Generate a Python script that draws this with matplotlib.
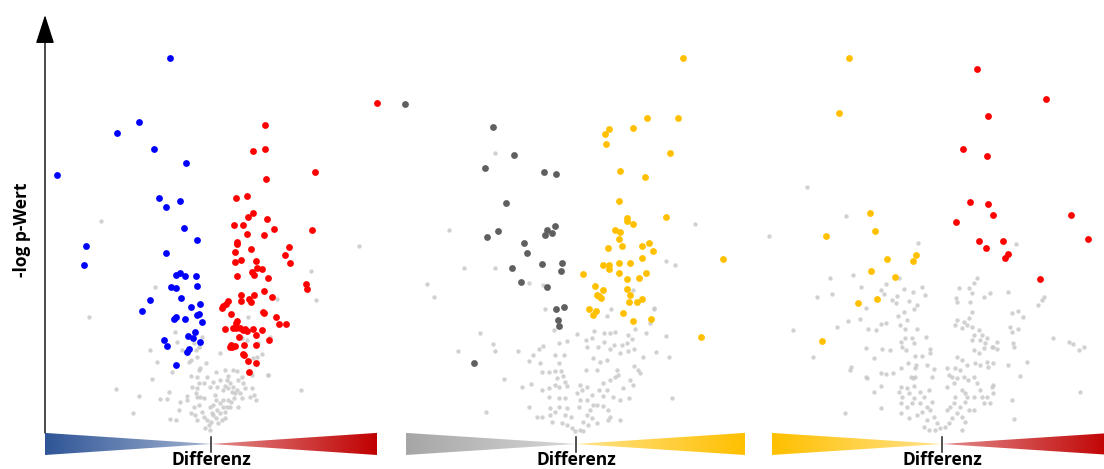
import numpy as np
import matplotlib
matplotlib.use('Agg')
import matplotlib.pyplot as plt
from matplotlib.patches import Polygon
from matplotlib.colors import LinearSegmentedColormap, to_rgb

plt.rcParams['font.family'] = ['Open Sans', 'DejaVu Sans']

# ---- panel 1: blue (down) / red (up) ----
p1_down = [(-0.98, 8.98), (-1.73, 7.43), (-2.27, 7.16), (-1.38, 6.79), (-0.61, 6.46), (-3.70, 6.16),
           (-1.25, 5.61), (-0.74, 5.53), (-1.09, 5.40), (-0.65, 4.89), (-0.34, 4.61), (-3.01, 4.47),
           (-1.08, 4.29), (-3.07, 4.00), (-0.85, 3.77), (-0.74, 3.82), (-0.62, 3.74), (-0.35, 3.74),
           (-0.96, 3.48), (-0.84, 3.46), (-0.34, 3.51), (-0.72, 3.22), (-1.46, 3.17), (-1.66, 2.91),
           (-0.48, 3.00), (-0.26, 3.07), (-0.84, 2.76), (-0.88, 2.70), (-0.62, 2.72), (-0.34, 2.80),
           (-0.30, 2.83), (-0.21, 2.64), (-0.38, 2.40), (-0.56, 2.30), (-0.44, 2.25), (-1.14, 2.20),
           (-0.26, 2.16), (-1.06, 2.06), (-0.53, 1.98), (-0.59, 1.93), (-0.84, 1.60)]
p1_up = [(4.00, 7.88), (1.29, 7.37), (1.00, 6.73), (1.29, 6.79), (2.50, 6.24), (1.33, 6.06), (0.60, 5.61),
         (0.86, 5.65), (1.00, 5.26), (0.88, 5.16), (1.35, 5.12), (0.56, 4.96), (0.76, 4.96), (1.53, 4.88),
         (2.43, 4.85), (0.86, 4.74), (1.28, 4.72), (0.62, 4.56), (0.63, 4.52), (1.89, 4.44), (0.96, 4.39),
         (0.57, 4.32), (1.78, 4.24), (0.73, 4.13), (1.09, 4.10), (0.57, 4.07), (1.90, 4.05), (1.11, 3.93),
         (1.23, 3.90), (0.99, 3.84), (1.04, 3.77), (0.62, 3.73), (1.37, 3.70), (2.29, 3.54), (2.31, 3.44),
         (1.28, 3.38), (0.73, 3.29), (1.04, 3.28), (1.48, 3.25), (0.92, 3.19), (0.96, 3.13), (0.72, 3.14),
         (0.42, 3.14), (0.36, 3.08), (0.30, 3.02), (0.27, 2.98), (0.47, 2.82), (1.25, 2.88), (1.28, 2.86),
         (1.57, 2.76), (0.63, 2.67), (0.60, 2.62), (1.65, 2.59), (1.81, 2.58), (0.34, 2.46), (0.54, 2.49),
         (0.60, 2.50), (0.70, 2.49), (0.76, 2.45), (0.82, 2.47), (0.86, 2.43), (1.02, 2.47), (1.23, 2.45),
         (0.67, 2.29), (1.08, 2.32), (1.39, 2.21), (0.47, 2.09), (0.51, 2.05), (0.59, 2.06), (0.45, 2.03),
         (0.80, 2.08), (1.08, 2.09), (0.76, 1.87), (0.80, 1.85), (0.88, 1.71), (1.08, 1.65), (0.92, 1.44)]
p1_ns = [(-2.65, 5.06), (3.57, 4.47), (2.42, 3.87), (2.54, 3.17), (-2.93, 2.76), (1.60, 3.19), (0.90, 2.76),
         (-1.34, 3.48), (-0.30, 2.04), (1.37, 1.37),
         (-1.48, 1.97), (-1.29, 1.68), (-0.94, 1.45), (-1.42, 1.27), (-2.29, 1.03), (-1.74, 0.86), (-1.89, 0.46),
         (-1.24, 0.80), (-1.05, 0.79), (-1.02, 0.96), (-0.74, 0.72), (-0.78, 0.53), (-1.00, 0.32), (-0.84, 0.29),
         (-0.58, 0.87), (-0.57, 0.77), (-0.46, 1.09), (-0.30, 1.49), (-0.26, 1.53), (-0.49, 1.34), (-0.33, 1.31),
         (-0.52, 1.68), (-0.48, 1.73), (-0.33, 1.81), (-0.36, 1.97), (-0.13, 1.65), (-0.10, 1.33), (-0.17, 1.17),
         (-0.30, 1.17), (-0.33, 1.05), (-0.36, 0.94), (-0.33, 0.83), (-0.26, 0.85), (-0.16, 0.81), (-0.28, 0.65),
         (-0.42, 0.61), (-0.49, 0.45), (-0.38, 0.41), (-0.34, 0.29), (-0.22, 0.49), (-0.18, 0.37), (-0.10, 0.29),
         (-0.06, 0.17), (-0.14, 0.09), (-0.02, 0.05), (-0.01, 0.25), (0.02, 0.45), (-0.02, 0.61), (0.06, 0.65),
         (0.12, 0.77), (0.10, 0.89), (0.15, 1.07), (0.22, 1.25), (0.22, 1.89), (0.28, 1.01), (0.34, 1.10),
         (0.38, 1.25), (0.42, 1.05), (0.46, 1.17), (0.50, 0.97), (0.54, 1.07), (0.58, 0.93), (0.62, 1.01),
         (0.55, 0.81), (0.42, 0.77), (0.30, 0.77), (0.22, 0.69), (0.30, 0.61), (0.14, 0.53), (0.22, 0.45),
         (0.34, 0.49), (0.38, 0.61), (0.46, 0.61), (0.47, 0.73), (0.12, 0.33), (0.18, 0.21), (0.26, 0.29),
         (0.34, 0.33), (0.06, 0.41), (-0.02, 1.09), (0.06, 1.21), (0.12, 1.45), (0.34, 1.49), (0.42, 1.34),
         (0.54, 1.49), (0.63, 1.47), (0.66, 1.25), (0.74, 1.33), (0.78, 1.17), (0.82, 1.05), (0.98, 1.37),
         (1.02, 1.77), (1.10, 1.81), (1.24, 1.87), (1.38, 1.37), (0.98, 1.05), (1.03, 0.89), (1.08, 0.77),
         (0.94, 0.85), (0.74, 0.81), (0.70, 0.93), (0.66, 0.61), (1.14, 2.13), (1.42, 2.29), (2.18, 1.02),
         (0.74, 2.25), (0.86, 2.21), (-0.22, 2.29), (-0.30, 2.05), (-0.50, 2.01), (-0.82, 2.17), (-0.70, 1.97),
         (-0.42, 2.13), (-0.86, 2.41)]

# ---- panel 2: dark grey (down) / yellow (up) ----
p2_down = [(-4.13, 7.86), (-1.99, 7.32), (-1.50, 6.64), (-2.20, 6.34), (-0.78, 6.24), (-0.48, 6.19),
           (-1.69, 5.49), (-1.89, 4.82), (-2.15, 4.67), (-0.51, 4.94), (-0.70, 4.85), (-0.74, 4.73),
           (-0.59, 4.77), (-1.26, 4.54), (-1.19, 4.30), (-1.55, 3.93), (-0.82, 4.04), (-0.33, 4.05),
           (-0.35, 3.86), (-1.32, 3.61), (-0.70, 3.49), (-0.48, 2.96), (-0.30, 3.01), (-0.43, 2.69),
           (-0.42, 2.54), (-2.46, 1.65)]
p2_up = [(2.57, 8.98), (1.70, 7.53), (2.46, 7.54), (0.80, 7.26), (1.38, 7.29), (0.69, 7.14), (0.73, 6.90),
         (2.26, 6.70), (1.07, 6.25), (1.67, 6.11), (1.04, 5.53), (2.17, 5.16), (1.22, 5.13), (1.24, 5.07),
         (1.37, 4.98), (0.95, 4.85), (1.06, 4.80), (1.04, 4.62), (1.10, 4.46), (0.78, 4.42), (1.59, 4.47),
         (1.75, 4.53), (1.85, 4.33), (1.58, 4.17), (0.64, 4.00), (0.79, 4.01), (0.80, 3.90), (1.04, 4.05),
         (1.30, 4.06), (0.16, 3.78), (1.03, 3.81), (1.69, 3.81), (1.52, 3.70), (1.23, 3.67), (0.46, 3.50),
         (0.66, 3.41), (1.22, 3.42), (1.30, 3.29), (0.51, 3.28), (0.60, 3.22), (0.55, 3.26), (1.58, 3.20),
         (1.46, 3.11), (1.28, 3.12), (0.32, 2.94), (0.48, 2.91), (0.40, 2.80), (1.14, 2.86), (1.38, 2.66),
         (1.80, 2.70), (3.55, 4.14), (3.00, 2.27)]
p2_ns = [(-3.06, 4.85), (-2.69, 3.93), (-1.94, 3.93), (-3.60, 3.55), (-3.42, 3.25), (-1.94, 6.68),
         (-1.13, 3.58), (-0.80, 3.52), (2.87, 5.00), (2.18, 4.10), (2.38, 4.01), (1.37, 3.41), (0.85, 2.94),
         (1.88, 2.97), (1.78, 2.62), (0.74, 2.78), (-0.74, 2.95),
         (-2.32, 2.37), (-2.84, 1.94), (-2.00, 2.10), (-1.94, 1.94), (-1.40, 1.94), (-1.74, 1.28), (-2.18, 0.48),
         (-1.30, 1.09), (-1.14, 1.71), (-1.04, 1.84), (-0.90, 1.98), (-0.80, 2.07), (-1.14, 0.61), (-1.09, 1.15),
         (-0.82, 1.45), (-0.66, 1.45), (-0.50, 1.85), (-0.30, 1.85), (-0.42, 2.13), (-0.21, 2.18), (-0.54, 2.45),
         (0.03, 2.34), (0.23, 2.21), (0.38, 2.25), (0.43, 2.43), (0.68, 2.37), (0.82, 2.37),
         (0.95, 2.41), (0.26, 2.03), (0.54, 2.03), (0.68, 2.17), (0.92, 2.09), (1.10, 2.09), (1.22, 2.14),
         (1.36, 2.22), (0.83, 1.98), (1.06, 1.89), (1.26, 1.94), (1.40, 1.98), (1.62, 1.81), (1.92, 1.93),
         (2.24, 1.81), (2.18, 2.30), (1.87, 2.95), (1.68, 2.37), (1.42, 2.46), (1.26, 2.33), (-0.40, 1.66),
         (-0.37, 1.47), (-0.50, 1.47), (-0.86, 1.66), (-0.46, 1.29), (-0.32, 1.34), (-0.26, 1.21), (-0.50, 1.13),
         (-0.42, 1.09), (-0.22, 1.11), (-0.64, 0.85), (-0.42, 0.81), (-0.26, 0.82), (-0.82, 1.02), (-0.66, 1.05),
         (-0.62, 0.57), (-0.42, 0.59), (-0.22, 0.57), (-0.94, 0.37), (-0.82, 0.37), (-0.62, 0.41), (-0.50, 0.49),
         (-0.26, 0.41), (-0.13, 0.37), (-0.58, 0.25), (-0.34, 0.21), (-0.22, 0.17), (-0.10, 0.09), (-0.02, 0.03),
         (0.10, 0.05), (0.18, 0.03), (0.08, 0.61), (0.10, 0.77), (0.02, 0.93), (0.14, 1.01), (0.10, 1.13),
         (0.26, 1.09), (0.24, 1.49), (0.50, 1.49), (0.42, 1.77), (0.58, 1.69), (0.74, 1.73), (0.66, 1.17),
         (0.82, 1.25), (0.94, 1.31), (1.02, 1.37), (0.98, 1.49), (1.14, 1.05), (1.30, 1.25), (1.38, 1.13),
         (1.54, 1.41), (1.40, 1.58), (1.50, 1.50), (0.56, 1.01), (0.74, 1.01), (0.38, 0.89), (0.64, 0.86),
         (0.90, 0.85), (1.06, 0.77), (0.26, 0.77), (0.42, 0.65), (0.50, 0.65), (0.66, 0.62), (0.78, 0.53),
         (0.34, 0.53), (0.26, 0.41), (0.38, 0.33), (0.18, 0.25), (0.30, 0.17), (0.50, 0.21), (0.82, 0.37),
         (1.06, 0.29), (1.28, 0.81), (2.32, 0.81), (0.78, 0.29)]

# ---- panel 3: yellow (down) / red (up) ----
p3_down = [(-2.25, 8.98), (-2.47, 7.66), (-1.74, 5.26), (-1.62, 4.82), (-2.79, 4.70), (-1.32, 4.16),
           (-0.63, 4.24), (-0.70, 4.10), (-1.72, 3.86), (-1.13, 3.71), (-2.02, 3.10), (-1.56, 3.18),
           (-2.89, 2.19)]
p3_up = [(0.85, 8.71), (2.51, 7.98), (1.12, 7.58), (0.50, 6.78), (1.09, 6.63), (0.68, 5.51), (1.10, 5.48),
         (1.23, 5.21), (0.34, 5.03), (3.11, 5.21), (3.52, 4.63), (0.90, 4.57), (1.06, 4.42), (1.48, 4.58),
         (1.58, 4.26), (1.53, 4.18), (2.35, 3.66)]
p3_ns = [(-3.26, 5.88), (-4.16, 4.70), (-2.32, 5.17), (-0.57, 4.54), (1.78, 4.51),
         (-3.58, 2.45), (-3.10, 1.79), (-3.02, 3.25), (-2.71, 3.69), (-2.66, 3.32), (-2.14, 3.77), (-1.96, 3.47),
         (-2.52, 2.53), (-2.26, 2.66), (-1.98, 2.71), (-1.83, 2.97), (-1.82, 2.02), (-1.78, 2.48), (-1.60, 2.45),
         (-1.46, 2.59), (-1.36, 2.61), (-1.48, 3.41), (-1.40, 3.30), (-1.36, 3.54), (-1.20, 3.17), (-1.12, 3.09),
         (-1.04, 3.70), (-1.08, 3.26), (-0.92, 3.42), (-0.80, 3.14), (-0.70, 3.37), (-0.60, 3.05), (-0.68, 2.94),
         (-0.48, 3.49), (-0.40, 3.29), (-1.06, 2.78), (-0.92, 2.89), (-0.84, 2.69), (-1.02, 2.57), (-0.90, 2.46),
         (-0.90, 2.25), (-0.60, 2.46), (-1.00, 2.17), (-0.96, 2.05), (-0.86, 1.97), (-0.72, 2.25), (-0.68, 2.13),
         (-0.38, 2.27), (-0.30, 1.99), (-0.28, 1.90), (-0.65, 1.82), (-0.48, 1.82), (-1.26, 1.97), (-1.44, 1.98),
         (-1.80, 1.30), (-2.20, 1.57), (-2.22, 1.50), (-1.64, 1.78), (-1.48, 1.42), (-1.34, 1.39), (-1.82, 1.31),
         (-1.18, 1.41), (-1.00, 1.53), (-0.82, 1.65), (-0.64, 1.53), (-0.62, 1.61), (-0.36, 1.61), (-0.20, 1.52),
         (-0.24, 1.33), (-0.70, 1.29), (-0.64, 1.33), (-0.74, 1.33), (-1.64, 0.97), (-1.48, 1.10), (-1.00, 1.09),
         (-0.84, 1.06), (-0.68, 1.10), (-1.04, 0.97), (-0.96, 0.85), (-0.80, 0.93), (-0.68, 0.81), (-0.52, 0.97),
         (-0.44, 0.85), (-0.32, 1.01), (-1.00, 0.70), (-0.84, 0.61), (-0.72, 0.69), (-0.52, 0.69), (-0.36, 0.61),
         (-0.24, 0.73), (-1.00, 0.45), (-0.80, 0.33), (-0.60, 0.41), (-0.48, 0.49), (-0.36, 0.29), (-0.28, 0.53),
         (-0.20, 0.37), (-0.12, 0.21), (-0.04, 0.09), (-0.16, 0.05), (-0.44, 0.13), (-0.32, 0.05), (-2.34, 0.45),
         (-1.48, 0.57), (0.12, 0.53), (0.20, 0.61), (0.28, 0.69), (0.36, 0.45), (0.08, 0.13), (0.16, 0.21),
         (0.24, 0.33), (0.44, 0.61), (0.56, 0.73), (0.60, 0.85), (0.32, 0.85), (0.48, 1.01), (0.56, 0.93),
         (0.12, 1.09), (0.28, 1.17), (0.36, 1.29), (0.24, 1.33), (0.32, 1.53), (0.44, 1.49), (0.52, 1.33),
         (0.62, 1.25), (0.76, 1.33), (0.84, 1.17), (0.92, 1.01), (0.76, 0.85), (0.96, 0.85), (1.00, 0.69),
         (1.08, 0.85), (1.20, 1.09), (1.16, 0.69), (0.48, 0.37), (0.64, 0.53), (0.76, 0.53), (0.56, 0.25),
         (0.48, 0.05), (0.12, 1.53), (0.16, 1.37), (0.36, 1.81), (0.48, 1.73), (0.60, 1.61), (0.80, 1.65),
         (0.92, 1.61), (1.08, 1.69), (1.12, 1.57), (0.88, 1.89), (0.76, 1.97), (1.00, 2.01), (1.20, 2.03),
         (1.32, 1.98), (0.92, 2.21), (1.04, 2.13), (1.08, 2.25), (0.88, 2.45), (0.96, 2.33), (0.72, 2.21),
         (0.76, 2.33), (0.48, 2.49), (0.60, 2.57), (0.72, 2.53), (0.32, 2.57), (0.36, 2.69), (0.52, 2.65),
         (0.64, 2.73), (0.72, 2.89), (0.68, 3.13), (0.72, 3.33), (0.64, 3.45), (0.40, 3.45), (0.34, 3.21),
         (0.36, 3.13), (0.76, 3.57), (0.84, 3.69), (1.00, 3.25), (1.16, 3.33), (1.24, 2.05), (1.32, 2.17),
         (1.24, 1.65), (1.60, 3.37), (1.68, 2.85), (1.82, 2.90), (1.96, 2.75), (1.64, 2.53), (1.68, 2.41),
         (1.84, 2.46), (1.72, 2.14), (1.74, 2.03), (1.58, 1.61), (1.88, 1.34), (2.06, 1.69), (1.68, 0.77),
         (1.74, 0.31), (2.32, 3.05), (2.40, 3.17), (2.46, 3.25), (2.68, 2.25), (3.05, 2.16), (3.16, 2.10),
         (3.30, 1.97), (3.42, 2.03), (3.32, 0.97), (1.24, 1.13), (1.24, 0.93)]

panels = [
    dict(ns=p1_ns, down=p1_down, up=p1_up, c_down='#0000ff', c_up='#ff0000',
         w_down='#2f5597', w_up='#c00000', px=(45, 211, 377)),
    dict(ns=p2_ns, down=p2_down, up=p2_up, c_down='#5f5f5f', c_up='#ffc000',
         w_down='#a6a6a6', w_up='#ffc000', px=(406, 576, 745)),
    dict(ns=p3_ns, down=p3_down, up=p3_up, c_down='#ffc000', c_up='#ff0000',
         w_down='#ffc000', w_up='#c00000', px=(772, 942, 1112)),
]

W, H = 1104, 469
PX_X, PX_Y = 41.5, 41.7
fig = plt.figure(figsize=(W / 100, H / 100), dpi=100)


def wedge(ax, x_outer, color):
    poly = Polygon([(x_outer, -0.02), (x_outer, -0.55), (0, -0.285)], closed=True,
                   facecolor='none', edgecolor='none')
    ax.add_patch(poly)
    c = np.array(to_rgb(color))
    cmap = LinearSegmentedColormap.from_list('grad', [c * 0.45 + 0.55, c])
    grad = np.linspace(0, 1, 256)[None, :]
    if x_outer < 0:
        grad = grad[:, ::-1]
    im = ax.imshow(grad, cmap=cmap, extent=(min(x_outer, 0), max(x_outer, 0), -0.55, -0.02),
                   aspect='auto', origin='lower', interpolation='bilinear')
    im.set_clip_path(poly)


axes = []
for p in panels:
    left, center, right = p['px']
    ax = fig.add_axes([left / W, (H - 455) / H, (right - left) / W, 440 / H])
    xl, xr = (left - center) / PX_X, (right - center) / PX_X

    ns = np.array(p['ns'])
    ax.scatter(ns[:, 0], ns[:, 1], s=10, color='#c9c9c9', alpha=0.85, linewidths=0, clip_on=False, zorder=2)
    d = np.array(p['down'])
    u = np.array(p['up'])
    ax.scatter(d[:, 0], d[:, 1], s=24, color=p['c_down'], linewidths=0, clip_on=False, zorder=3)
    ax.scatter(u[:, 0], u[:, 1], s=24, color=p['c_up'], linewidths=0, clip_on=False, zorder=3)

    wedge(ax, xl, p['w_down'])
    wedge(ax, xr, p['w_up'])
    ax.plot([0, 0], [-0.12, -0.48], color='#222222', lw=1.1, zorder=4)
    ax.text(0, -0.875, 'Differenz', ha='center', va='bottom', fontweight='bold',
            fontsize=12.5, clip_on=False)

    ax.set_xlim(xl, xr)
    ax.set_ylim(-0.55, 10)
    ax.axis('off')
    axes.append(ax)

# y axis arrow on the first panel
axes[0].annotate('', xy=(axes[0].get_xlim()[0], 10), xytext=(axes[0].get_xlim()[0], -0.02),
                 arrowprops=dict(arrowstyle='-|>,head_length=1.8,head_width=0.58', color='black',
                                 lw=1.0, shrinkA=0, shrinkB=0),
                 annotation_clip=False)
fig.text(22 / W, 1 - 230 / H, '-log p-Wert', rotation=90, ha='center', va='center',
         fontweight='bold', fontsize=12.5)

fig.savefig('out.png', dpi=100)
